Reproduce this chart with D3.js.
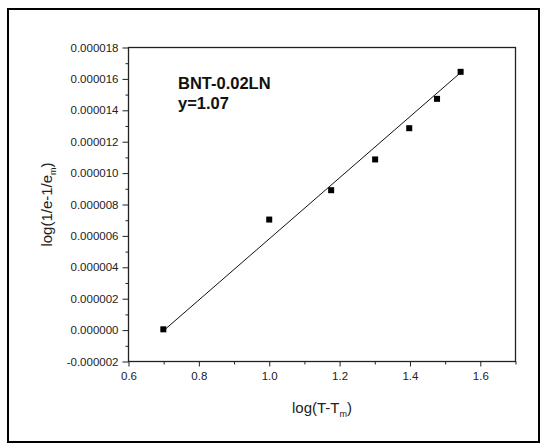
<!DOCTYPE html>
<html>
<head>
<meta charset="utf-8">
<script src="https://cdn.jsdelivr.net/npm/d3@7"></script>
<style>
  html, body { margin: 0; padding: 0; background: #fff; }
  svg { display: block; font-family: "Liberation Sans", Arial, sans-serif; }
</style>
</head>
<body>
<svg id="chart" width="540" height="444"></svg>
<script>
// ---- data ----
const xValues = [0.699, 1.000, 1.176, 1.301, 1.398, 1.477, 1.544];
const yValues = [0.00000005, 0.00000704, 0.00000891, 0.00001087, 0.00001286, 0.00001473, 0.00001645];
const fitX = [0.699, 1.544];
const fitY = [-0.00000005, 0.00001640];
const xTicks = [0.6, 0.8, 1.0, 1.2, 1.4, 1.6];
const yTicks = [-0.000002, 0, 0.000002, 0.000004, 0.000006, 0.000008, 0.000010, 0.000012, 0.000014, 0.000016, 0.000018];
const xMinor = [0.7, 0.9, 1.1, 1.3, 1.5, 1.7];
const yMinor = [-0.000001, 0.000001, 0.000003, 0.000005, 0.000007, 0.000009, 0.000011, 0.000013, 0.000015, 0.000017];
const annotation = ["BNT-0.02LN", "y=1.07"];

// ---- layout ----
const svg = d3.select("#chart");
const L = 128.5, R = 515.5, T = 47.5, B = 361.5;
const x = d3.scaleLinear().domain([0.6, 1.7]).range([L, R]);
const y = d3.scaleLinear().domain([-0.000002, 0.000018]).range([B, T]);
const loc = d3.formatLocale({decimal: ".", thousands: ",", grouping: [3], currency: ["", ""], minus: "-"});

// outer frame
svg.append("rect").attr("x", 8).attr("y", 9).attr("width", 531).attr("height", 433)
  .attr("fill", "none").attr("stroke", "#000").attr("stroke-width", 2);

// plot box
svg.append("rect").attr("x", L).attr("y", T).attr("width", R - L).attr("height", B - T)
  .attr("fill", "none").attr("stroke", "#222").attr("stroke-width", 1.3);

// axes
const xAxis = d3.axisBottom(x).tickValues(xTicks).tickFormat(loc.format(".1f")).tickSize(5).tickSizeOuter(0).tickPadding(5);
const xAxisMinor = d3.axisBottom(x).tickValues(xMinor).tickFormat("").tickSize(3).tickSizeOuter(0);
const yAxis = d3.axisLeft(y).tickValues(yTicks).tickFormat(loc.format(".6f")).tickSize(6).tickSizeOuter(0).tickPadding(4);
const yAxisMinor = d3.axisLeft(y).tickValues(yMinor).tickFormat("").tickSize(3).tickSizeOuter(0);

function styleAxis(g) {
  g.select(".domain").remove();
  g.selectAll(".tick line").attr("stroke", "#222").attr("stroke-width", 1);
  g.selectAll(".tick text").attr("fill", "#222").style("font-size", "11.5px")
    .style("font-family", "'Liberation Sans', Arial, sans-serif");
}
svg.append("g").attr("transform", `translate(0,${B})`).call(xAxis).call(styleAxis);
svg.append("g").attr("transform", `translate(0,${B})`).call(xAxisMinor).call(styleAxis);
svg.append("g").attr("transform", `translate(${L},0)`).call(yAxis).call(styleAxis);
svg.append("g").attr("transform", `translate(${L},0)`).call(yAxisMinor).call(styleAxis);

// axis titles
const xt = svg.append("text").attr("x", (L + R) / 2).attr("y", 413).attr("text-anchor", "middle")
  .style("font-size", "15px").attr("fill", "#222");
xt.append("tspan").text("log(T-T");
xt.append("tspan").text("m").style("font-size", "9px").attr("dy", 4);
xt.append("tspan").text(")").attr("dy", -4);

const yt = svg.append("text").attr("transform", `translate(52,${(T + B) / 2}) rotate(-90)`)
  .attr("text-anchor", "middle").style("font-size", "15px").attr("fill", "#222");
yt.append("tspan").text("log(1/e-1/e");
yt.append("tspan").text("m").style("font-size", "9px").attr("dy", 4);
yt.append("tspan").text(")").attr("dy", -4);

// fit line
const line = d3.line().x((d, i) => x(fitX[i])).y((d, i) => y(fitY[i]));
svg.append("path").datum(fitX).attr("d", line).attr("fill", "none")
  .attr("stroke", "#111").attr("stroke-width", 1);

// points
const s = 6;
svg.append("g").selectAll("rect").data(xValues).join("rect")
  .attr("x", (d) => x(d) - s / 2)
  .attr("y", (d, i) => y(yValues[i]) - s / 2)
  .attr("width", s).attr("height", s).attr("fill", "#000");

// annotation
svg.append("g").selectAll("text").data(annotation).join("text")
  .attr("x", 178).attr("y", (d, i) => 89 + i * 20)
  .style("font-size", "16.5px").style("font-weight", "bold").attr("fill", "#111")
  .text((d) => d);
</script>
</body>
</html>
